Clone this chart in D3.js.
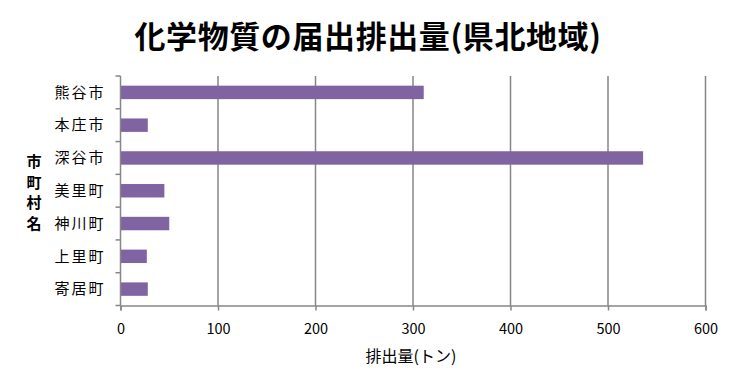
<!DOCTYPE html>
<html>
<head>
<meta charset="utf-8">
<script src="https://cdn.jsdelivr.net/npm/d3@7"></script>
<style>
body { margin: 0; background: #fff; }
text { font-family: "Noto Sans CJK JP", sans-serif; fill: #000; }
</style>
</head>
<body>
<svg id="chart" width="740" height="388"></svg>
<script>
const categories = ["熊谷市", "本庄市", "深谷市", "美里町", "神川町", "上里町", "寄居町"];
const values = [311, 28, 536, 45, 50, 27, 28];
const xTicks = [0, 100, 200, 300, 400, 500, 600];

const svg = d3.select("#chart");
const plotLeft = 120.5, plotRight = 705.5, plotTop = 76, plotBottom = 305.5;
const gridColor = "#868686";
const barColor = "#8064a2";

const x = d3.scaleLinear().domain([0, 600]).range([plotLeft, plotRight]);
const y = d3.scaleBand().domain(categories).range([plotTop, plotBottom]).paddingInner(0.59).paddingOuter(0.295);
const yb = d3.scaleBand().domain(categories).range([plotTop, plotBottom]);

// vertical gridlines
svg.append("g")
    .selectAll("line")
    .data(xTicks.slice(1))
    .enter()
    .append("line")
    .attr("x1", d => x(d)).attr("x2", d => x(d))
    .attr("y1", plotTop).attr("y2", plotBottom)
    .attr("stroke", gridColor)
    .attr("stroke-width", 1.5);

// bars
svg.append("g")
    .selectAll("rect")
    .data(values)
    .enter()
    .append("rect")
    .attr("x", x(0))
    .attr("y", (d, i) => y(categories[i]))
    .attr("width", d => x(d) - x(0))
    .attr("height", y.bandwidth())
    .attr("fill", barColor);

// x axis
const xAxis = svg.append("g").attr("transform", "translate(0," + plotBottom + ")")
    .call(d3.axisBottom(x).tickValues(xTicks).tickSize(5).tickPadding(13));
xAxis.select(".domain").attr("stroke", gridColor).attr("stroke-width", 1.5);
xAxis.selectAll(".tick line").attr("stroke", gridColor).attr("stroke-width", 1.5);
xAxis.selectAll("text").attr("font-size", "14.5px").attr("font-family", "Noto Sans CJK JP").attr("fill", "#000");

// y axis: line plus ticks at category boundaries
const yAxis = svg.append("g");
yAxis.append("line")
    .attr("x1", plotLeft).attr("x2", plotLeft)
    .attr("y1", plotTop).attr("y2", plotBottom)
    .attr("stroke", gridColor).attr("stroke-width", 1.5);
const bounds = categories.map(c => yb(c)).concat([plotBottom]);
yAxis.selectAll(".yt")
    .data(bounds)
    .enter()
    .append("line")
    .attr("class", "yt")
    .attr("x1", plotLeft - 5).attr("x2", plotLeft)
    .attr("y1", d => d).attr("y2", d => d)
    .attr("stroke", gridColor).attr("stroke-width", 1.5);
yAxis.selectAll(".yl")
    .data(categories)
    .enter()
    .append("text")
    .attr("class", "yl")
    .text(d => d)
    .attr("x", plotLeft - 15)
    .attr("y", d => yb(d) + yb.bandwidth() / 2)
    .attr("dy", "0.35em")
    .attr("text-anchor", "end")
    .attr("letter-spacing", "2px")
    .attr("font-size", "15px");

// title
svg.append("text")
    .text("化学物質の届出排出量(県北地域)")
    .attr("x", 368)
    .attr("y", 48)
    .attr("text-anchor", "middle")
    .attr("font-size", "31px")
    .attr("letter-spacing", "0.6px")
    .attr("font-weight", "bold");

// x label
svg.append("text")
    .text("排出量(トン)")
    .attr("x", 411)
    .attr("y", 362)
    .attr("text-anchor", "middle")
    .attr("font-size", "16px");

// y label, stacked in one text
const yLabel = "市町村名".split("");
svg.append("text")
    .attr("text-anchor", "middle")
    .attr("font-size", "15px")
    .attr("font-weight", "bold")
    .selectAll("tspan")
    .data(yLabel)
    .enter()
    .append("tspan")
    .text(d => d)
    .attr("x", 34)
    .attr("y", (d, i) => 167 + i * 20.7);
</script>
</body>
</html>
